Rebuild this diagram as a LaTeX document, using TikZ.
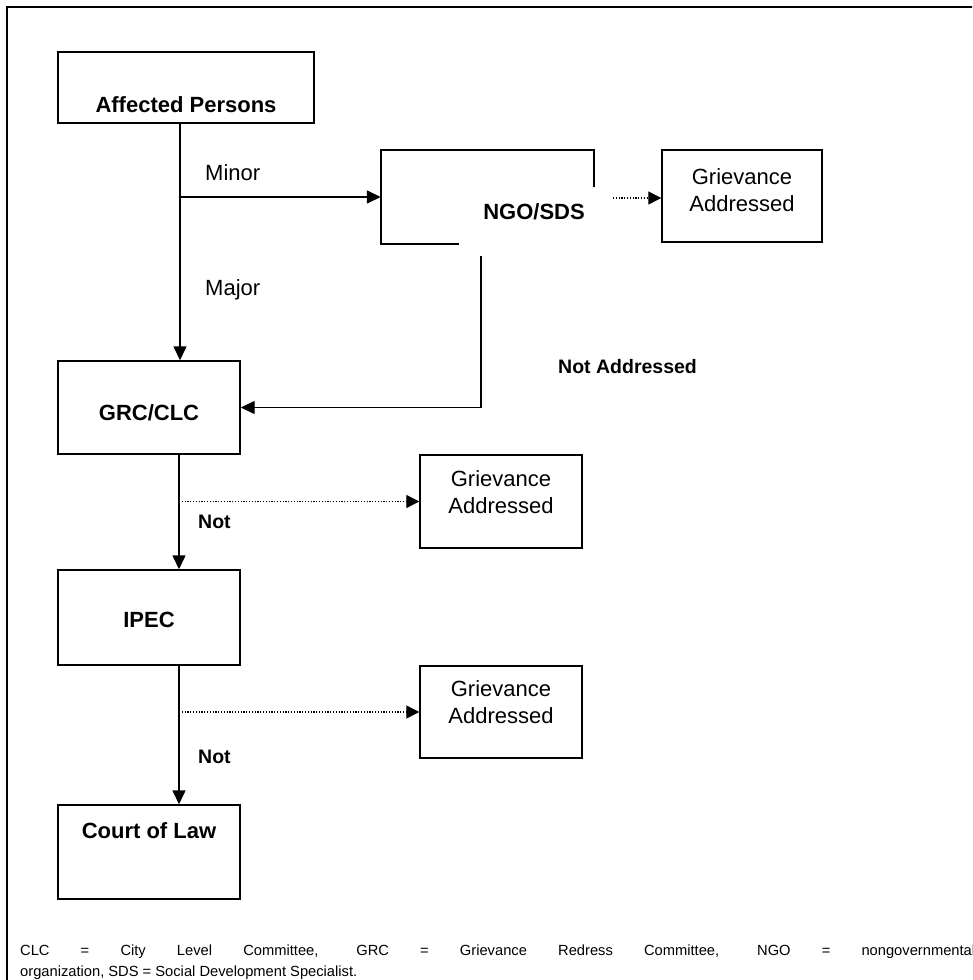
\documentclass[tikz,border=0pt]{standalone}
\usepackage{fontspec}
\setmainfont{Liberation Sans}
\usetikzlibrary{arrows.meta}
\begin{document}
\begin{tikzpicture}[x=1pt,y=-1pt,
  box/.style={draw, line width=1.4pt, rectangle, inner sep=0pt},
  boxline/.style={line width=1.4pt},
  lbl/.style={font=\fontsize{22}{26}\selectfont\bfseries, inner sep=0pt},
  txt/.style={font=\fontsize{22}{27}\selectfont, inner sep=0pt, align=center},
  small/.style={font=\fontsize{19.5}{23}\selectfont\bfseries, inner sep=0pt, anchor=west},
  arr/.style={line width=1.4pt, -{Triangle[length=14pt,width=13pt]}},
  dotarr/.style={line width=1.2pt, dash pattern=on 1.2pt off 1.6pt, -{Triangle[length=13pt,width=13pt]}},
  foot/.style={font=\fontsize{14.7}{17}\selectfont, inner sep=0pt, anchor=base west}
  ]
\useasboundingbox (0,0) rectangle (972,980);
\clip (0,0) rectangle (972,980);
% outer frame (right and bottom edges lie outside the picture)
\draw[line width=2pt] (7,1010) -- (7,7) -- (1010,7);

% boxes
\node[box, minimum width=256pt, minimum height=71pt] (ap) at (186,87.5) {};
\node[lbl] (aptext) at (186,105) {Affected Persons};

\node[minimum width=213pt, minimum height=94pt, inner sep=0pt] (ngo) at (487.5,197) {};
\draw[boxline] (459,244) -- (381,244) -- (381,150) -- (594,150) -- (594,187);
\node[lbl] (ngotext) at (534,212) {NGO/SDS};

\node[box, minimum width=160pt, minimum height=92pt] (ga1) at (742,196) {};
\node[txt] (ga1text) at (742,190) {Grievance\\Addressed};

\node[box, minimum width=182pt, minimum height=93pt] (grc) at (149,407.5) {};
\node[lbl] (grctext) at (149,413) {GRC/CLC};

\node[box, minimum width=162pt, minimum height=93pt] (ga2) at (501,501.5) {};
\node[txt] (ga2text) at (501,492) {Grievance\\Addressed};

\node[box, minimum width=182pt, minimum height=95pt] (ipec) at (149,617.5) {};
\node[lbl] (ipectext) at (149,620) {IPEC};

\node[box, minimum width=162pt, minimum height=92pt] (ga3) at (501,712) {};
\node[txt] (ga3text) at (501,702.5) {Grievance\\Addressed};

\node[box, minimum width=182pt, minimum height=94pt] (court) at (149,852) {};
\node[lbl] (courttext) at (149,831) {Court of Law};

% connectors
\coordinate (tA) at (180,0);
\coordinate (tB) at (179,0);
\draw[arr] (ap.south -| tA) -- (grc.north -| tA);
\draw[arr] (tA |- ngo.west) -- (ngo.west);
\node[txt, anchor=west] (minor) at (205,173) {Minor};
\node[txt, anchor=west] (major) at (205,290) {Major};

\coordinate (ngodot) at (613,198);
\draw[dotarr] (ngodot) -- (ga1.west |- ngodot);

\coordinate (ngoout) at (481,256);
\draw[arr] (ngoout) |- (grc.east);
\node[small] (notaddr) at (558,367) {Not Addressed};

\draw[arr] (grc.south -| tB) -- (ipec.north -| tB);
\draw[dotarr] (tB |- ga2.west) -- (ga2.west);
\node[small] (not1) at (198,522) {Not};

\draw[arr] (ipec.south -| tB) -- (court.north -| tB);
\draw[dotarr] (tB |- ga3.west) -- (ga3.west);
\node[small] (not2) at (198,757) {Not};

% footnote
\node[foot] (fn1) at (20,955) {\makebox[955pt][s]{CLC = City Level Committee, GRC = Grievance Redress Committee, NGO = nongovernmental}};
\node[foot] (fn2) at (20,976) {organization, SDS = Social Development Specialist.};
\end{tikzpicture}
\end{document}
